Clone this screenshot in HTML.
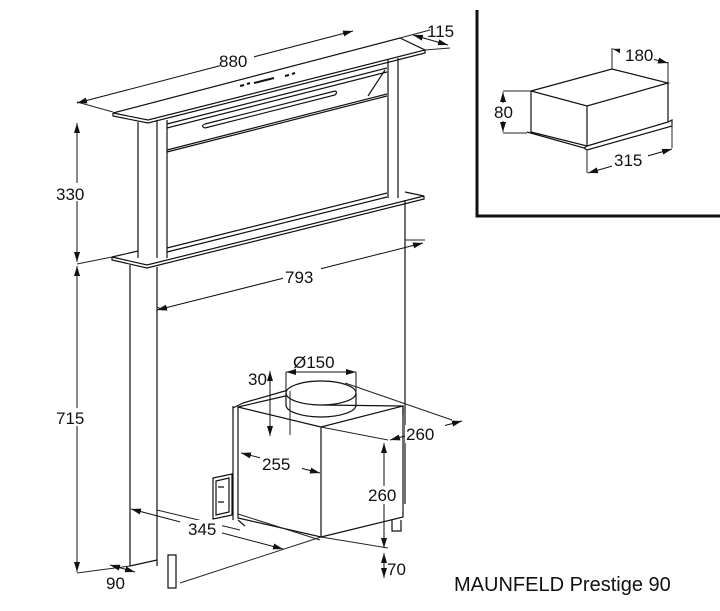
<!DOCTYPE html>
<html><head><meta charset="utf-8"><style>
html,body{margin:0;padding:0;background:#fff}
svg{display:block}
text{font-family:"Liberation Sans",Arial,sans-serif;font-size:17px;fill:#111}
</style></head><body>
<svg width="720" height="611" viewBox="0 0 720 611" xmlns="http://www.w3.org/2000/svg">
<defs>
<marker id="a" viewBox="0 0 10 6" refX="10" refY="3" markerWidth="10" markerHeight="6" orient="auto-start-reverse" markerUnits="userSpaceOnUse"><path d="M0,0L10,3L0,6z" fill="#111"/></marker>
</defs>
<g stroke="#111" stroke-width="1.2" fill="none">
<path d="M113,113L400,38L425,50L148,120Z"/>
<path d="M113,113L113,116L148,123L425,53L425,50"/>
<path d="M138,122V258M167,120V258M157,120V258"/>
<path d="M388,60V198M398,58V198"/>
<path d="M167,124L387,68M167,128L387,72M167,150L387,94M167,152L387,96M167,252L387,197M167,248L387,193"/>
<path d="M368,96L385,70"/>
<path d="M205,124Q200,126 205,128L335,95Q338,92 335,91Z"/>
<path d="M240,86l4,-1M247,84l3,-1M254,83l20,-5M285,76l4,-1M292,74l3,-1" stroke-width="2"/>
<path d="M112,257L147,265L424,196L405,192M112,257L112,260L147,268L424,199L424,196"/>
<path d="M112,257L138,251"/>
<path d="M130,265V566M157,267V566M130,566L157,560M405,200V504"/>
<path d="M238,407L238,518L321,537L321,427Z"/>
<path d="M238,407L320,388M321,427L403,406L403,517L321,537"/>
<path d="M322,405L403,406M233,406L233,520M233,408L243,403"/>
<path d="M243,403L316,382M403,406L403,415"/>
<ellipse cx="321" cy="393" rx="35" ry="12" fill="#fff"/>
<path d="M286,393V405A35,12 0 0 0 356,405V393"/>
<path d="M238,520L245,526M392,520V531H401V520"/>
<path d="M213,478L232,474V515L213,519Z"/>
<path d="M216,481L229,478V512L216,515Z"/>
<path d="M218,487h6M218,502h6"/>
<path d="M168,555V588H176V555Z"/>
</g>
<g stroke="#222" stroke-width="1" fill="none">
<path d="M77,102L113,112M77,264L112,257M77,573L130,566M425,50L450,48M400,38L430,30"/>
<path d="M157,307L163,310M405,240L425,240"/>
<path d="M157,510L240,530M321,537L388,548M180,583L321,537M321,427L388,440M290,391V435M345,383L452,420M403,506V512"/>
<path d="M238,514L320,540"/>
</g>
<g stroke="#111" stroke-width="1" fill="none">
<line x1="77" y1="103" x2="353" y2="31" marker-start="url(#a)" marker-end="url(#a)"/>
<line x1="413" y1="35" x2="448" y2="45" marker-start="url(#a)" marker-end="url(#a)"/>
<line x1="77" y1="123" x2="77" y2="262" marker-start="url(#a)" marker-end="url(#a)"/>
<line x1="77" y1="266" x2="77" y2="572" marker-start="url(#a)" marker-end="url(#a)"/>
<line x1="157" y1="310" x2="423" y2="243" marker-start="url(#a)" marker-end="url(#a)"/>
<line x1="131" y1="509" x2="283" y2="549" marker-start="url(#a)" marker-end="url(#a)"/>
<line x1="110" y1="565" x2="135" y2="572" marker-start="url(#a)" marker-end="url(#a)"/>
<line x1="241" y1="453" x2="320" y2="473" marker-start="url(#a)" marker-end="url(#a)"/>
<line x1="384" y1="443" x2="384" y2="548" marker-start="url(#a)" marker-end="url(#a)"/>
<line x1="384" y1="553" x2="384" y2="578" marker-start="url(#a)" marker-end="url(#a)"/>
<line x1="390" y1="440" x2="462" y2="421" marker-start="url(#a)" marker-end="url(#a)"/>
<line x1="270" y1="371" x2="270" y2="436" marker-start="url(#a)" marker-end="url(#a)"/>
<line x1="286" y1="372" x2="356" y2="372" marker-start="url(#a)" marker-end="url(#a)"/>
<line x1="286" y1="372" x2="286" y2="392"/><line x1="356" y1="372" x2="356" y2="392"/>
</g>
<g fill="#fff" stroke="none">
<rect x="220" y="52" width="34" height="18"/>
<rect x="283" y="268" width="38" height="18"/>
<rect x="56" y="183" width="38" height="18"/>
<rect x="56" y="408" width="38" height="18"/>
<rect x="260" y="455" width="42" height="18"/>
<rect x="180" y="520" width="42" height="18"/>
<rect x="364" y="486" width="38" height="18"/>
<rect x="405" y="425" width="40" height="18"/>
</g>
<text x="219" y="67">880</text>
<text x="427" y="37">115</text>
<text x="56" y="200">330</text>
<text x="56" y="424">715</text>
<text x="285" y="283">793</text>
<text x="293" y="368">Ø150</text>
<text x="248" y="385">30</text>
<text x="406" y="440">260</text>
<text x="262" y="470">255</text>
<text x="368" y="501">260</text>
<text x="188" y="535">345</text>
<text x="387" y="575">70</text>
<text x="106" y="589">90</text>
<text x="454" y="591" style="font-size:20px">MAUNFELD Prestige 90</text>
<path d="M477,10V216H720" stroke="#111" stroke-width="3" fill="none"/>
<g stroke="#111" stroke-width="1.2" fill="none">
<path d="M531,91L612,69L668,83L587,106Z"/>
<path d="M531,91V132L587,146V106M668,83V122L587,146"/>
<path d="M527,132L584,148L587,146M584,148L587,150L672,126V120L668,122"/>
</g>
<g stroke="#222" stroke-width="1" fill="none">
<path d="M503,91H531M503,133H527M612,69V48M668,83V62M587,150V173M672,122V148"/>
</g>
<g stroke="#111" stroke-width="1" fill="none">
<line x1="503" y1="92" x2="503" y2="132" marker-start="url(#a)" marker-end="url(#a)"/>
<line x1="613" y1="49" x2="668" y2="63" marker-start="url(#a)" marker-end="url(#a)"/>
<line x1="588" y1="173" x2="672" y2="149" marker-start="url(#a)" marker-end="url(#a)"/>
</g>
<rect x="494" y="103" width="22" height="18" fill="#fff"/>
<rect x="620" y="45" width="34" height="16" fill="#fff"/>
<rect x="612" y="150" width="36" height="18" fill="#fff"/>
<text x="494" y="118">80</text>
<text x="625" y="61">180</text>
<text x="614" y="166">315</text>
</svg>
</body></html>
